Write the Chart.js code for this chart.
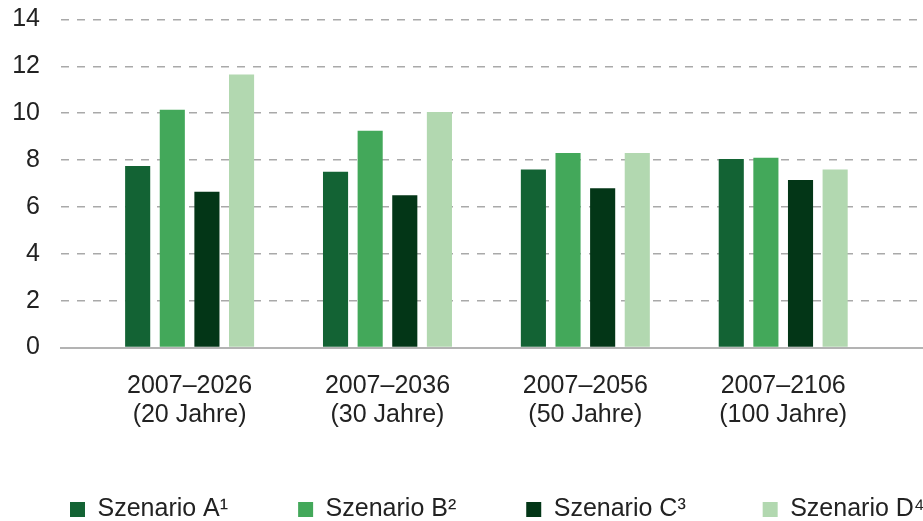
<!DOCTYPE html>
<html>
<head>
<meta charset="utf-8">
<script src="https://cdn.jsdelivr.net/npm/chart.js@4/dist/chart.umd.min.js"></script>
<style>
  html, body { margin: 0; padding: 0; background: #fff; overflow: hidden; }
  .chart-container { position: relative; width: 1080px; height: 521px; }
</style>
</head>
<body>
<div class="chart-container">
  <canvas id="szenarioChart"></canvas>
</div>
<script>
const periods = [
    ['2007–2026', '(20 Jahre)'],
    ['2007–2036', '(30 Jahre)'],
    ['2007–2056', '(50 Jahre)'],
    ['2007–2106', '(100 Jahre)']
];
const seriesNames = ['Szenario A¹', 'Szenario B²', 'Szenario C³', 'Szenario D⁴'];
const szenarioA = [7.75, 7.5, 7.6, 8.05];
const szenarioB = [10.15, 9.25, 8.3, 8.1];
const szenarioC = [6.65, 6.5, 6.8, 7.15];
const szenarioD = [11.65, 10.05, 8.3, 7.6];
const yTicks = [0, 2, 4, 6, 8, 10, 12, 14];

const colors = ['#136334', '#43a85a', '#033617', '#b2d8b0'];
const fontFamily = "'Liberation Sans', Arial, sans-serif";
const textColor = '#222222';

// bars are placed on a numeric x axis so the plot can start left of the first group
const toPoints = values => values.map((v, i) => ({ x: i, y: v }));

new Chart('szenarioChart', {
    type: 'bar',
    data: {
        datasets: [szenarioA, szenarioB, szenarioC, szenarioD].map((values, i) => ({
            label: seriesNames[i],
            data: toPoints(values),
            backgroundColor: colors[i],
            borderWidth: 0,
            categoryPercentage: 0.7,
            barPercentage: 0.725
        }))
    },
    options: {
        responsive: true,
        maintainAspectRatio: false,
        animation: false,
        layout: {
            padding: { left: 0, right: 0, top: 19.5, bottom: -11 }
        },
        plugins: {
            tooltip: { enabled: false },
            legend: {
                position: 'bottom',
                align: 'start',
                labels: {
                    boxWidth: 15,
                    boxHeight: 15,
                    padding: 70,
                    color: textColor,
                    font: { family: fontFamily, size: 25 },
                    // a little extra room after the third entry, as in the original layout
                    generateLabels: chart => Chart.defaults.plugins.legend.labels.generateLabels(chart)
                        .map((item, i) => Object.assign(item, { text: i === 2 ? item.text + ' ' : item.text }))
                }
            }
        },
        scales: {
            x: {
                type: 'linear',
                offset: false,
                min: -0.65,
                max: 4.5,
                afterFit: axis => { axis.height -= 26; },
                grid: { display: false, drawTicks: false },
                border: { display: true, color: '#b3b3b3', width: 2 },
                ticks: {
                    stepSize: 1,
                    includeBounds: false,
                    padding: 24,
                    maxRotation: 0,
                    autoSkip: false,
                    color: textColor,
                    font: { family: fontFamily, size: 25, lineHeight: 1.15 },
                    callback: value => (Number.isInteger(value) && periods[value]) ? periods[value] : ''
                }
            },
            y: {
                min: 0,
                max: 14,
                afterBuildTicks: axis => { axis.ticks = yTicks.map(v => ({ value: v })); },
                afterFit: axis => {
                    axis.width = 61;
                    axis.paddingTop = 0;
                    axis.paddingBottom = 0;
                },
                grid: {
                    drawTicks: false,
                    lineWidth: 1.5,
                    color: ctx => ctx.tick && ctx.tick.value === 0 ? 'rgba(0,0,0,0)' : '#a9a9a9'
                },
                border: { display: false, dash: [8, 8] },
                ticks: {
                    autoSkip: false,
                    padding: 21,
                    color: textColor,
                    font: { family: fontFamily, size: 25 }
                }
            }
        }
    }
});
</script>
</body>
</html>
